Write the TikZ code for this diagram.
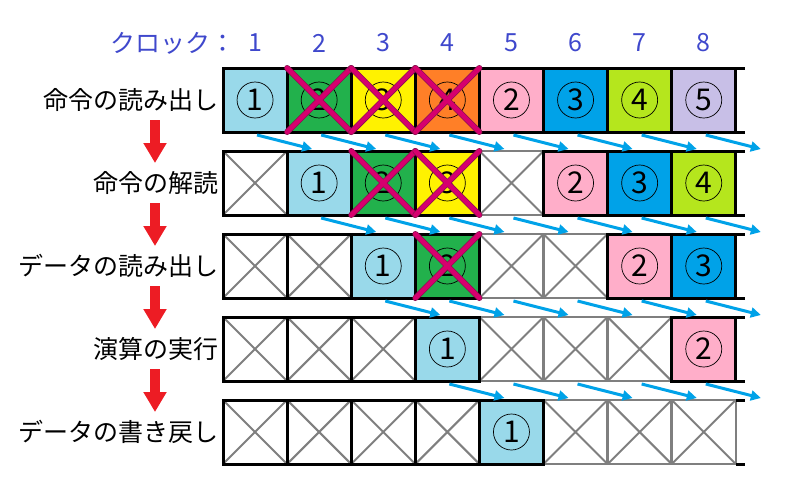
\documentclass[tikz,border=0pt]{standalone}
\usepackage{fontspec}
\setmainfont{Noto Sans CJK JP}
\usetikzlibrary{arrows.meta}
\definecolor{cLB}{HTML}{99D9EA}
\definecolor{cGR}{HTML}{22B14C}
\definecolor{cYE}{HTML}{FFF200}
\definecolor{cOR}{HTML}{FF7F27}
\definecolor{cPK}{HTML}{FFAEC9}
\definecolor{cBL}{HTML}{00A2E8}
\definecolor{cLI}{HTML}{B5E61D}
\definecolor{cLV}{HTML}{C8BFE7}
\definecolor{cRED}{HTML}{ED1C24}
\definecolor{cIND}{HTML}{3F48CC}
\definecolor{cMAG}{HTML}{D6006E}
\definecolor{cMAGD}{HTML}{8A1050}
\definecolor{cGRY}{HTML}{7F7F7F}
\tikzset{
  cellbox/.style={draw=black, line width=3pt, minimum size=64pt, inner sep=0pt, outer sep=0pt},
  xline/.style={draw=cGRY, line width=2pt},
  xfill/.style={path picture={\draw[xline] (path picture bounding box.north west) -- (path picture bounding box.south east) (path picture bounding box.north east) -- (path picture bounding box.south west);}},
  graycell/.style={cellbox, draw=cGRY, line width=2.5pt, xfill},
  blackxcell/.style={cellbox, xfill},
  numcirc/.style={circle, draw=black, line width=0.7pt, minimum size=36pt, inner sep=0pt, font=\fontsize{30}{30}\selectfont},
  crossedge/.style={draw=cMAGD, line width=6pt, line cap=round},
  crossline/.style={draw=cMAG, line width=4.5pt, line cap=round},
  lab/.style={anchor=east, inner sep=0pt, font=\fontsize{25}{25}\selectfont},
  hdr/.style={inner sep=0pt, text=cIND, font=\fontsize{25}{25}\selectfont},
  redarrow/.style={draw=cRED, line width=10pt, -{Triangle[width=22pt,length=20pt]}},
  bluearrow/.style={draw=cBL, line width=3pt, -{Triangle[width=10pt,length=10pt]}},
  rowline/.style={draw=black, line width=3pt},
}
\newcommand\mkcell[4]{% row col fill num
  \node[cellbox, fill=#3] (R#1C#2) at ({223+64.1*(#2-0.5)},{100+83*(#1-1)}) {};
  \node[numcirc] (N#1C#2) at (R#1C#2) {#4};}
\newcommand\mkxcell[3]{% row col style
  \node[#3] (R#1C#2) at ({223+64.1*(#2-0.5)},{100+83*(#1-1)}) {};}
\newcommand\mkcross[2]{%
  \draw[crossedge] (R#1C#2.north west) -- (R#1C#2.south east);
  \draw[crossedge] (R#1C#2.north east) -- (R#1C#2.south west);
  \draw[crossline] (R#1C#2.north west) -- (R#1C#2.south east);
  \draw[crossline] (R#1C#2.north east) -- (R#1C#2.south west);}
\begin{document}
\begin{tikzpicture}[x=1pt,y=-1pt]
\useasboundingbox (0,0) rectangle (800,480);
% header
\node[hdr, anchor=west] (H0) at (110,43) {クロック：};
\foreach \i in {1,...,8} {\node[hdr] (H\i) at ({223+64.1*(\i-0.5)},43) {\i};}
% labels
\node[lab] (L1) at (219,100) {命令の読み出し};
\node[lab] (L2) at (219,183) {命令の解読};
\node[lab] (L3) at (219,266) {データの読み出し};
\node[lab] (L4) at (219,349) {演算の実行};
\node[lab] (L5) at (219,432) {データの書き戻し};
% red arrows
\foreach \k in {1,...,4} {
  \coordinate (RA\k s) at (155,{120+83*(\k-1)});
  \coordinate (RA\k e) at (155,{163+83*(\k-1)});
  \draw[redarrow] (RA\k s) -- (RA\k e);
}
% row 1
\mkcell{1}{1}{cLB}{1}
\mkcell{1}{2}{cGR}{2}
\mkcell{1}{3}{cYE}{3}
\mkcell{1}{4}{cOR}{4}
\mkcell{1}{5}{cPK}{2}
\mkcell{1}{6}{cBL}{3}
\mkcell{1}{7}{cLI}{4}
\mkcell{1}{8}{cLV}{5}
% row 2
\mkxcell{2}{5}{graycell}
\mkxcell{2}{1}{blackxcell}
\mkcell{2}{2}{cLB}{1}
\mkcell{2}{3}{cGR}{2}
\mkcell{2}{4}{cYE}{3}
\mkcell{2}{6}{cPK}{2}
\mkcell{2}{7}{cBL}{3}
\mkcell{2}{8}{cLI}{4}
% row 3
\mkxcell{3}{5}{graycell}
\mkxcell{3}{6}{graycell}
\mkxcell{3}{1}{blackxcell}
\mkxcell{3}{2}{blackxcell}
\mkcell{3}{3}{cLB}{1}
\mkcell{3}{4}{cGR}{2}
\mkcell{3}{7}{cPK}{2}
\mkcell{3}{8}{cBL}{3}
% row 4
\mkxcell{4}{5}{graycell}
\mkxcell{4}{6}{graycell}
\mkxcell{4}{7}{graycell}
\mkxcell{4}{1}{blackxcell}
\mkxcell{4}{2}{blackxcell}
\mkxcell{4}{3}{blackxcell}
\mkcell{4}{4}{cLB}{1}
\mkcell{4}{8}{cPK}{2}
% row 5
\mkxcell{5}{6}{graycell}
\mkxcell{5}{7}{graycell}
\mkxcell{5}{8}{graycell}
\mkxcell{5}{1}{blackxcell}
\mkxcell{5}{2}{blackxcell}
\mkxcell{5}{3}{blackxcell}
\mkxcell{5}{4}{blackxcell}
\mkcell{5}{5}{cLB}{1}
% row line extensions
\foreach \r in {1,...,5} {
  \draw[rowline] (R\r C8.north east) -- ++(9,0);
  \draw[rowline] (R\r C8.south east) -- ++(9,0);
}
% crosses
\mkcross{1}{2}\mkcross{1}{3}\mkcross{1}{4}
\mkcross{2}{3}\mkcross{2}{4}
\mkcross{3}{4}
% ghost coordinates for last arrows
\foreach \r in {2,...,5} {\coordinate (R\r C9) at ({223+64.1*8.5},{100+83*(\r-1)});}
% blue arrows
\foreach \r in {1,...,4} {
  \pgfmathtruncatemacro\nr{\r+1}
  \foreach \i in {\r,...,8} {
    \pgfmathtruncatemacro\ni{\i+1}
    \draw[bluearrow] ([xshift=2pt,yshift=-35pt]R\r C\i.center) -- ([xshift=-7pt,yshift=34pt]R\nr C\ni.center);
  }
}
\end{tikzpicture}
\end{document}
